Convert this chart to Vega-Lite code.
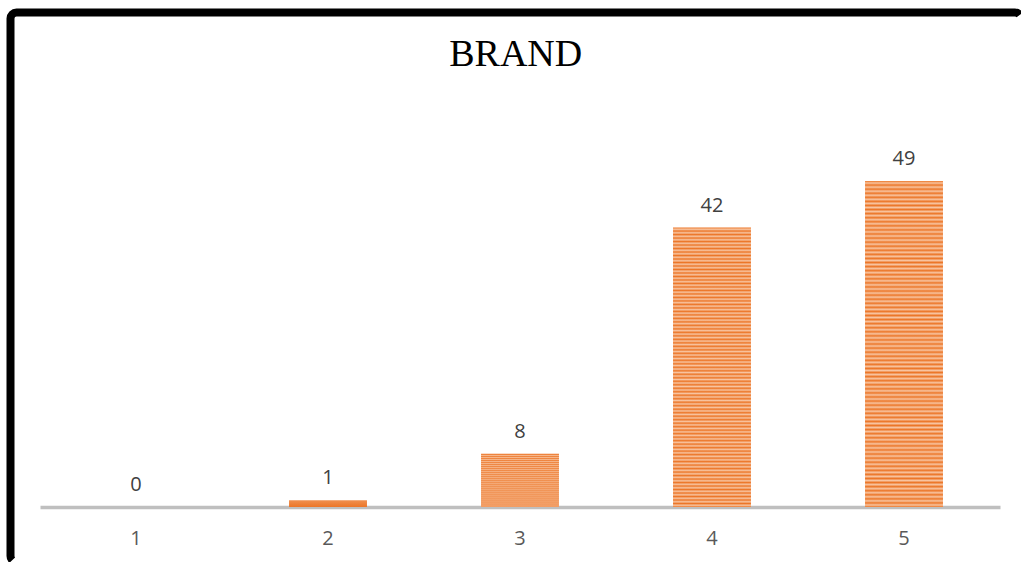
{
  "$schema": "https://vega.github.io/schema/vega-lite/v6.json",
  "autosize": {"type": "none"},
  "width": 1010.5,
  "height": 549.5,
  "padding": {"left": 10.5, "top": 12.5, "right": 0, "bottom": 0},
  "background": "white",
  "title": {
    "text": "BRAND",
    "font": "Liberation Serif",
    "fontSize": 38,
    "fontWeight": "normal",
    "color": "#000000",
    "anchor": "middle",
    "orient": "top",
    "frame": "group",
    "offset": -61
  },
  "view": {
    "stroke": "#000000",
    "strokeWidth": 8,
    "cornerRadius": 6,
    "strokeDash": [1004, 1554, 600]
  },
  "data": {
    "values": [
      {"rating": "1", "count": 0},
      {"rating": "2", "count": 1},
      {"rating": "3", "count": 8},
      {"rating": "4", "count": 42},
      {"rating": "5", "count": 49}
    ]
  },
  "encoding": {
    "x": {
      "field": "rating",
      "type": "ordinal",
      "scale": {"range": [29.5, 989.5], "paddingInner": 0.594, "paddingOuter": 0.297},
      "axis": {
        "title": null,
        "ticks": false,
        "labelAngle": 0,
        "labelFont": "Open Sans",
        "labelFontSize": 20,
        "labelColor": "#595959",
        "labelPadding": 21,
        "domainColor": "#BFBFBF",
        "domainWidth": 3.5,
        "grid": false,
        "offset": -55
      }
    },
    "y": {
      "field": "count",
      "type": "quantitative",
      "scale": {"domain": [0, 50], "range": [494.5, 161.85], "nice": false},
      "axis": null
    }
  },
  "layer": [
    {
      "mark": {
        "type": "bar",
        "strokeWidth": 0,
        "fill": {
          "gradient": "linear",
          "x1": 0, "y1": 0, "x2": 0, "y2": 1,
          "stops": [
            {"offset": 0, "color": "#EC7628"},
            {"offset": 0.00625, "color": "#F8C4A0"},
            {"offset": 0.0125, "color": "#EC7628"},
            {"offset": 0.01875, "color": "#F8C4A0"},
            {"offset": 0.025, "color": "#EC7628"},
            {"offset": 0.03125, "color": "#F8C4A0"},
            {"offset": 0.0375, "color": "#EC7628"},
            {"offset": 0.04375, "color": "#F8C4A0"},
            {"offset": 0.05, "color": "#EC7628"},
            {"offset": 0.05625, "color": "#F8C4A0"},
            {"offset": 0.0625, "color": "#EC7628"},
            {"offset": 0.06875, "color": "#F8C4A0"},
            {"offset": 0.075, "color": "#EC7628"},
            {"offset": 0.08125, "color": "#F8C4A0"},
            {"offset": 0.0875, "color": "#EC7628"},
            {"offset": 0.09375, "color": "#F8C4A0"},
            {"offset": 0.1, "color": "#EC7628"},
            {"offset": 0.10625, "color": "#F8C4A0"},
            {"offset": 0.1125, "color": "#EC7628"},
            {"offset": 0.11875, "color": "#F8C4A0"},
            {"offset": 0.125, "color": "#EC7628"},
            {"offset": 0.13125, "color": "#F8C4A0"},
            {"offset": 0.1375, "color": "#EC7628"},
            {"offset": 0.14375, "color": "#F8C4A0"},
            {"offset": 0.15, "color": "#EC7628"},
            {"offset": 0.15625, "color": "#F8C4A0"},
            {"offset": 0.1625, "color": "#EC7628"},
            {"offset": 0.16875, "color": "#F8C4A0"},
            {"offset": 0.175, "color": "#EC7628"},
            {"offset": 0.18125, "color": "#F8C4A0"},
            {"offset": 0.1875, "color": "#EC7628"},
            {"offset": 0.19375, "color": "#F8C4A0"},
            {"offset": 0.2, "color": "#EC7628"},
            {"offset": 0.20625, "color": "#F8C4A0"},
            {"offset": 0.2125, "color": "#EC7628"},
            {"offset": 0.21875, "color": "#F8C4A0"},
            {"offset": 0.225, "color": "#EC7628"},
            {"offset": 0.23125, "color": "#F8C4A0"},
            {"offset": 0.2375, "color": "#EC7628"},
            {"offset": 0.24375, "color": "#F8C4A0"},
            {"offset": 0.25, "color": "#EC7628"},
            {"offset": 0.25625, "color": "#F8C4A0"},
            {"offset": 0.2625, "color": "#EC7628"},
            {"offset": 0.26875, "color": "#F8C4A0"},
            {"offset": 0.275, "color": "#EC7628"},
            {"offset": 0.28125, "color": "#F8C4A0"},
            {"offset": 0.2875, "color": "#EC7628"},
            {"offset": 0.29375, "color": "#F8C4A0"},
            {"offset": 0.3, "color": "#EC7628"},
            {"offset": 0.30625, "color": "#F8C4A0"},
            {"offset": 0.3125, "color": "#EC7628"},
            {"offset": 0.31875, "color": "#F8C4A0"},
            {"offset": 0.325, "color": "#EC7628"},
            {"offset": 0.33125, "color": "#F8C4A0"},
            {"offset": 0.3375, "color": "#EC7628"},
            {"offset": 0.34375, "color": "#F8C4A0"},
            {"offset": 0.35, "color": "#EC7628"},
            {"offset": 0.35625, "color": "#F8C4A0"},
            {"offset": 0.3625, "color": "#EC7628"},
            {"offset": 0.36875, "color": "#F8C4A0"},
            {"offset": 0.375, "color": "#EC7628"},
            {"offset": 0.38125, "color": "#F8C4A0"},
            {"offset": 0.3875, "color": "#EC7628"},
            {"offset": 0.39375, "color": "#F8C4A0"},
            {"offset": 0.4, "color": "#EC7628"},
            {"offset": 0.40625, "color": "#F8C4A0"},
            {"offset": 0.4125, "color": "#EC7628"},
            {"offset": 0.41875, "color": "#F8C4A0"},
            {"offset": 0.425, "color": "#EC7628"},
            {"offset": 0.43125, "color": "#F8C4A0"},
            {"offset": 0.4375, "color": "#EC7628"},
            {"offset": 0.44375, "color": "#F8C4A0"},
            {"offset": 0.45, "color": "#EC7628"},
            {"offset": 0.45625, "color": "#F8C4A0"},
            {"offset": 0.4625, "color": "#EC7628"},
            {"offset": 0.46875, "color": "#F8C4A0"},
            {"offset": 0.475, "color": "#EC7628"},
            {"offset": 0.48125, "color": "#F8C4A0"},
            {"offset": 0.4875, "color": "#EC7628"},
            {"offset": 0.49375, "color": "#F8C4A0"},
            {"offset": 0.5, "color": "#EC7628"},
            {"offset": 0.50625, "color": "#F8C4A0"},
            {"offset": 0.5125, "color": "#EC7628"},
            {"offset": 0.51875, "color": "#F8C4A0"},
            {"offset": 0.525, "color": "#EC7628"},
            {"offset": 0.53125, "color": "#F8C4A0"},
            {"offset": 0.5375, "color": "#EC7628"},
            {"offset": 0.54375, "color": "#F8C4A0"},
            {"offset": 0.55, "color": "#EC7628"},
            {"offset": 0.55625, "color": "#F8C4A0"},
            {"offset": 0.5625, "color": "#EC7628"},
            {"offset": 0.56875, "color": "#F8C4A0"},
            {"offset": 0.575, "color": "#EC7628"},
            {"offset": 0.58125, "color": "#F8C4A0"},
            {"offset": 0.5875, "color": "#EC7628"},
            {"offset": 0.59375, "color": "#F8C4A0"},
            {"offset": 0.6, "color": "#EC7628"},
            {"offset": 0.60625, "color": "#F8C4A0"},
            {"offset": 0.6125, "color": "#EC7628"},
            {"offset": 0.61875, "color": "#F8C4A0"},
            {"offset": 0.625, "color": "#EC7628"},
            {"offset": 0.63125, "color": "#F8C4A0"},
            {"offset": 0.6375, "color": "#EC7628"},
            {"offset": 0.64375, "color": "#F8C4A0"},
            {"offset": 0.65, "color": "#EC7628"},
            {"offset": 0.65625, "color": "#F8C4A0"},
            {"offset": 0.6625, "color": "#EC7628"},
            {"offset": 0.66875, "color": "#F8C4A0"},
            {"offset": 0.675, "color": "#EC7628"},
            {"offset": 0.68125, "color": "#F8C4A0"},
            {"offset": 0.6875, "color": "#EC7628"},
            {"offset": 0.69375, "color": "#F8C4A0"},
            {"offset": 0.7, "color": "#EC7628"},
            {"offset": 0.70625, "color": "#F8C4A0"},
            {"offset": 0.7125, "color": "#EC7628"},
            {"offset": 0.71875, "color": "#F8C4A0"},
            {"offset": 0.725, "color": "#EC7628"},
            {"offset": 0.73125, "color": "#F8C4A0"},
            {"offset": 0.7375, "color": "#EC7628"},
            {"offset": 0.74375, "color": "#F8C4A0"},
            {"offset": 0.75, "color": "#EC7628"},
            {"offset": 0.75625, "color": "#F8C4A0"},
            {"offset": 0.7625, "color": "#EC7628"},
            {"offset": 0.76875, "color": "#F8C4A0"},
            {"offset": 0.775, "color": "#EC7628"},
            {"offset": 0.78125, "color": "#F8C4A0"},
            {"offset": 0.7875, "color": "#EC7628"},
            {"offset": 0.79375, "color": "#F8C4A0"},
            {"offset": 0.8, "color": "#EC7628"},
            {"offset": 0.80625, "color": "#F8C4A0"},
            {"offset": 0.8125, "color": "#EC7628"},
            {"offset": 0.81875, "color": "#F8C4A0"},
            {"offset": 0.825, "color": "#EC7628"},
            {"offset": 0.83125, "color": "#F8C4A0"},
            {"offset": 0.8375, "color": "#EC7628"},
            {"offset": 0.84375, "color": "#F8C4A0"},
            {"offset": 0.85, "color": "#EC7628"},
            {"offset": 0.85625, "color": "#F8C4A0"},
            {"offset": 0.8625, "color": "#EC7628"},
            {"offset": 0.86875, "color": "#F8C4A0"},
            {"offset": 0.875, "color": "#EC7628"},
            {"offset": 0.88125, "color": "#F8C4A0"},
            {"offset": 0.8875, "color": "#EC7628"},
            {"offset": 0.89375, "color": "#F8C4A0"},
            {"offset": 0.9, "color": "#EC7628"},
            {"offset": 0.90625, "color": "#F8C4A0"},
            {"offset": 0.9125, "color": "#EC7628"},
            {"offset": 0.91875, "color": "#F8C4A0"},
            {"offset": 0.925, "color": "#EC7628"},
            {"offset": 0.93125, "color": "#F8C4A0"},
            {"offset": 0.9375, "color": "#EC7628"},
            {"offset": 0.94375, "color": "#F8C4A0"},
            {"offset": 0.95, "color": "#EC7628"},
            {"offset": 0.95625, "color": "#F8C4A0"},
            {"offset": 0.9625, "color": "#EC7628"},
            {"offset": 0.96875, "color": "#F8C4A0"},
            {"offset": 0.975, "color": "#EC7628"},
            {"offset": 0.98125, "color": "#F8C4A0"},
            {"offset": 0.9875, "color": "#EC7628"},
            {"offset": 0.99375, "color": "#F8C4A0"},
            {"offset": 1, "color": "#EC7628"}
          ]
        }
      }
    },
    {
      "mark": {
        "type": "text",
        "font": "Open Sans",
        "fontSize": 20,
        "color": "#404040",
        "baseline": "alphabetic",
        "align": "center",
        "dy": -16
      },
      "encoding": {
        "text": {"field": "count", "type": "quantitative"}
      }
    }
  ]
}
